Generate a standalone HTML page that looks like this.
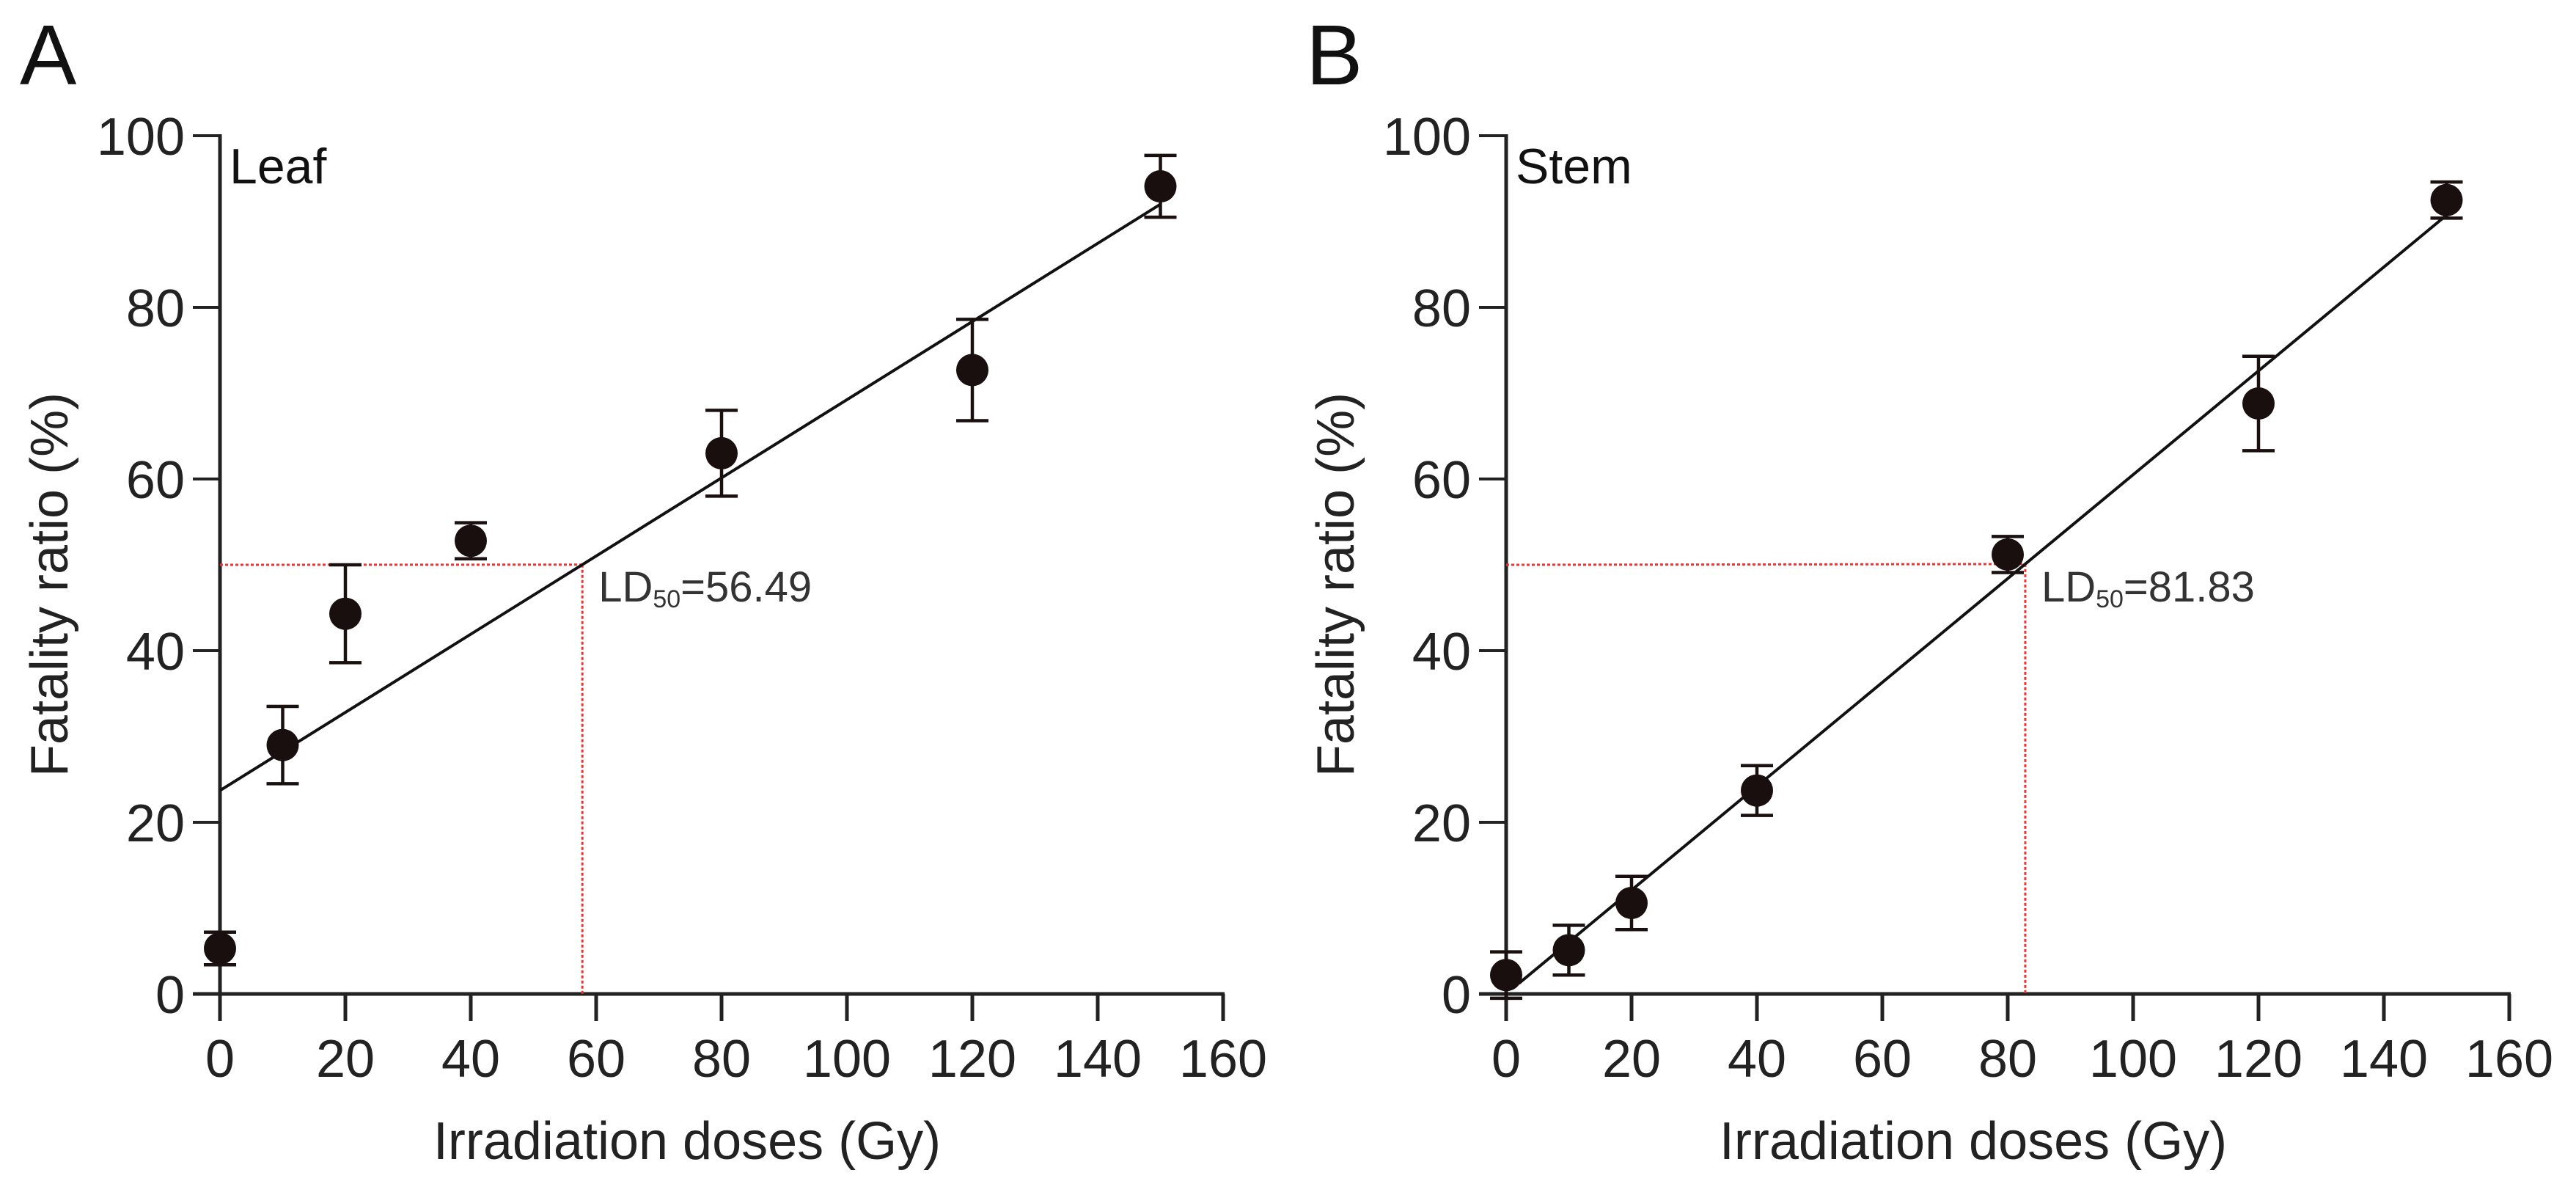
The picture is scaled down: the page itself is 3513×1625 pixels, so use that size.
<!DOCTYPE html>
<html><head><meta charset="utf-8"><style>
html,body{margin:0;padding:0;background:#fff;}
svg{display:block;font-family:"Liberation Sans",Arial,sans-serif;}
</style></head><body>
<svg id="fig" width="3513" height="1625" viewBox="0 0 3513 1625" xmlns="http://www.w3.org/2000/svg"></svg>
<script>
const doses = [0,10,20,40,80,120,150];
const leafMean = [5.3,29.0,44.3,52.8,63.0,72.7,94.1];
const leafErr = [1.9,4.5,5.7,2.1,5.0,5.9,3.6];
const stemMean = [2.2,5.1,10.6,23.7,51.2,68.8,92.5];
const stemErr = [2.7,2.9,3.1,2.9,2.1,5.5,2.1];
const leafFit = [23.7,0.4554];
const stemFit = [0.0,0.605];
const leafLD = [57.8];
const stemLD = [82.8];
const xTicks = [0,20,40,60,80,100,120,140,160];
const yTicks = [0,20,40,60,80,100];
const NS='http://www.w3.org/2000/svg';
const svg=document.getElementById('fig');
function mk(tag,attrs,parent,text){const e=document.createElementNS(NS,tag);for(const k in attrs)e.setAttribute(k,attrs[k]);if(text!==undefined)e.textContent=text;(parent||svg).appendChild(e);return e;}
function panel(ox,letter,title,means,errs,fit,ld,ldText,name,lineStart){
  const g=mk('g',{});
  
  
  const x=v=>ox+300+v*8.55;
  const y=v=>1355-v*11.7;
  const L=mk('text',{x:ox+27,y:115,'font-size':116,fill:'#111'},g,letter);
  
  
  // axes
  const ya=mk('line',{x1:x(0),y1:y(100)-2,x2:x(0),y2:1392,stroke:'#222','stroke-width':5},g);
  
  
  const xa=mk('line',{x1:ox+263,y1:y(0),x2:x(160)+2,y2:y(0),stroke:'#222','stroke-width':5},g);
  
  
  xTicks.forEach(t=>{
    mk('line',{x1:x(t),y1:y(0),x2:x(t),y2:1392,stroke:'#222','stroke-width':5},g);
    const tl=mk('text',{x:x(t),y:1468,'font-size':72,'text-anchor':'middle',fill:'#222'},g,String(t));
    
    
  });
  yTicks.forEach(t=>{
    mk('line',{x1:ox+263,y1:y(t),x2:x(0),y2:y(t),stroke:'#222','stroke-width':4},g);
    const tl=mk('text',{x:ox+252,y:y(t)+26,'font-size':72,'text-anchor':'end',fill:'#222'},g,String(t));
    
    
  });
  const tt=mk('text',{x:ox+313,y:250,'font-size':68,fill:'#111'},g,title);
  
  
  const yl=mk('text',{x:0,y:0,'font-size':72,'text-anchor':'middle',fill:'#222',transform:`translate(${ox+92},797) rotate(-90)`},g,'Fatality ratio (%)');
  
  
  const xl=mk('text',{x:ox+937,y:1580,'font-size':72,'text-anchor':'middle',fill:'#222'},g,'Irradiation doses (Gy)');
  
  
  // LD50 red dotted lines
  const ldy=fit[0]+fit[1]*ld[0];
  const rh=mk('line',{x1:x(0),y1:y(50),x2:x(ld[0]),y2:y(ldy),stroke:'#e33','stroke-width':3,'stroke-dasharray':'4 3'},g);
  
  
  const rv=mk('line',{x1:x(ld[0]),y1:y(ldy),x2:x(ld[0]),y2:y(0),stroke:'#e33','stroke-width':3,'stroke-dasharray':'4 3'},g);
  
  
  // fit line
  const fl=mk('line',{x1:x(lineStart),y1:y(fit[0]+fit[1]*lineStart),x2:x(150),y2:y(fit[0]+fit[1]*150),stroke:'#111','stroke-width':4},g);
  
  
  // points
  doses.forEach((d,i)=>{
    const cx=x(d),m=means[i],e=errs[i];
    const eb=mk('g',{stroke:'#1a1010','stroke-width':4.5},g);
    
    
    mk('line',{x1:cx,y1:y(m+e),x2:cx,y2:y(m-e)},eb);
    mk('line',{x1:cx-22,y1:y(m+e),x2:cx+22,y2:y(m+e)},eb);
    mk('line',{x1:cx-22,y1:y(m-e),x2:cx+22,y2:y(m-e)},eb);
    const c=mk('circle',{cx:cx,cy:y(m),r:22,fill:'#1a0f0f'},g);
    
    
  });
  const lt=mk('text',{x:x(ld[0])+22,y:820,'font-size':58,fill:'#333'},g);
  
  
  mk('tspan',{},lt,'LD');
  mk('tspan',{'font-size':34,dy:8},lt,'50');
  mk('tspan',{dy:-8},lt,'='+ldText);
}
panel(0,'A','Leaf',leafMean,leafErr,leafFit,leafLD,'56.49','panel-a-leaf',0);
panel(1754,'B','Stem',stemMean,stemErr,stemFit,stemLD,'81.83','panel-b-stem',2);
</script>
</body></html>
